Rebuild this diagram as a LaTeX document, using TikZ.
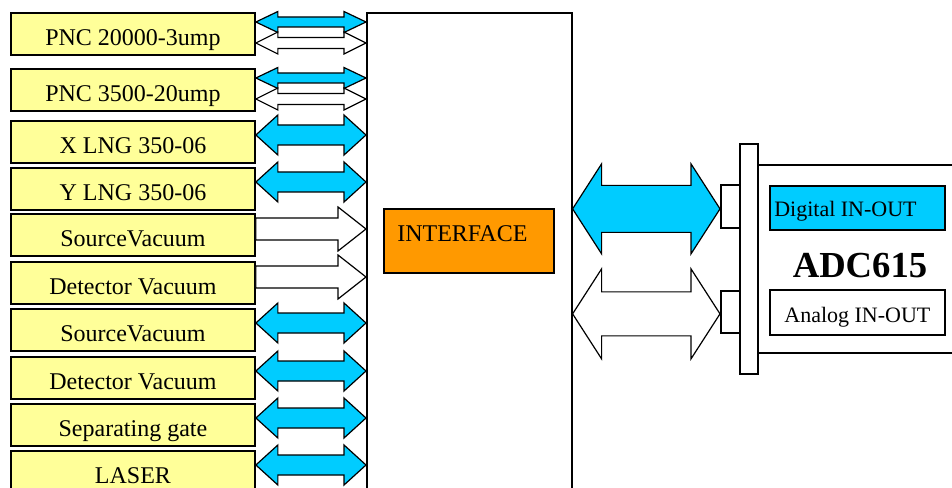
\documentclass[tikz,border=0pt]{standalone}
\usepackage{fontspec}
\setmainfont{Liberation Serif}
\usetikzlibrary{calc,positioning}

\definecolor{padyellow}{RGB}{255,255,153}
\definecolor{busblue}{RGB}{0,204,255}
\definecolor{ifaceorange}{RGB}{255,153,0}

\newcommand{\twoway}[6]{\draw[#1] (#2) -- ($(#2)+(#6,-#5)$) -- ($(#2)+(#6,-#4)$) -- ($(#3)+(-#6,-#4)$) -- ($(#3)+(-#6,-#5)$) -- (#3) -- ($(#3)+(-#6,#5)$) -- ($(#3)+(-#6,#4)$) -- ($(#2)+(#6,#4)$) -- ($(#2)+(#6,#5)$) -- cycle;}
\newcommand{\oneway}[6]{\draw[#1] ($(#2)+(0,-#4)$) -- ($(#3)+(-#6,-#4)$) -- ($(#3)+(-#6,-#5)$) -- (#3) -- ($(#3)+(-#6,#5)$) -- ($(#3)+(-#6,#4)$) -- ($(#2)+(0,#4)$) -- cycle;}

\tikzset{
  unit/.style={draw,line width=1.4pt,fill=padyellow,anchor=north west,minimum width=183pt,minimum height=31.5pt,inner sep=0pt,text height=18pt,text depth=0pt,font=\fontsize{18pt}{20pt}\selectfont},
  plate/.style={draw,line width=1.3pt,fill=white,anchor=north west,inner sep=0pt},
  bluearrow/.style={line width=0.9pt,fill=busblue},
  whitearrow/.style={line width=0.9pt,fill=white},
  caption/.style={inner sep=0pt,font=\fontsize{16.5pt}{18pt}\selectfont}
}

\begin{document}
\begin{tikzpicture}[x=0.75pt,y=-0.75pt]
\useasboundingbox (0,0) rectangle (952,488);
\clip (0,0) rectangle (952,488);
\fill[white] (0,0) rectangle (952,488);

\node[plate,line width=1.2pt,minimum width=153.75pt,minimum height=375pt] (bus) at (366,12) {};
\node[plate,fill=ifaceorange,minimum width=127.5pt,minimum height=48pt] (iface) at (383,208) {};
\node[anchor=base west,inner sep=0pt,font=\fontsize{18pt}{20pt}\selectfont] (ifacetext) at ($(iface.north west)+(14,34)$) {INTERFACE};

\node[unit] (pncA) at (10,12) {PNC 20000-3ump};
\node[unit] (pncB) at (10,68) {PNC 3500-20ump};
\node[unit] (xlng) at (10,120) {X LNG 350-06};
\node[unit] (ylng) at (10,167) {Y LNG 350-06};
\node[unit] (srcvac) at (10,213) {SourceVacuum};
\node[unit] (detvac) at (10,261) {Detector Vacuum};
\node[unit] (srcvacB) at (10,308) {SourceVacuum};
\node[unit] (detvacB) at (10,356) {Detector Vacuum};
\node[unit] (gate) at (10,403) {Separating gate};
\node[unit] (laser) at (10,450) {LASER};

\foreach \u in {pncA,pncB} {
  \coordinate (\u-l) at ($(\u.north east)+(0,10)$);
  \coordinate (\u-r) at (\u-l -| bus.west);
  \coordinate (\u-m) at ($(\u.north east)+(0,31)$);
  \coordinate (\u-n) at (\u-m -| bus.west);
  \twoway{whitearrow}{\u-m}{\u-n}{5.5}{11}{22}
  \twoway{bluearrow}{\u-l}{\u-r}{5}{10.5}{22}
}
\foreach \u in {xlng,ylng,srcvacB,detvacB,gate,laser} {
  \coordinate (\u-l) at ($(\u.north east)+(0,15)$);
  \coordinate (\u-r) at (\u-l -| bus.west);
  \twoway{bluearrow}{\u-l}{\u-r}{10}{20}{22}
}
\foreach \u in {srcvac,detvac} {
  \coordinate (\u-l) at ($(\u.north east)+(0,16)$);
  \coordinate (\u-r) at (\u-l -| bus.west);
  \oneway{whitearrow}{\u-l}{\u-r}{11}{22}{28}
}

\node[plate,minimum width=225pt,minimum height=141pt] (adc) at (757,164) {};
\node[plate,minimum width=13.5pt,minimum height=172.5pt] (bar) at (739,143) {};
\node[plate,minimum width=14.25pt,minimum height=32.25pt] (port1) at (720,184) {};
\node[plate,minimum width=14.25pt,minimum height=31.5pt] (port2) at (720,290) {};
\node[plate,fill=busblue,minimum width=131.25pt,minimum height=33pt] (digital) at (769,185) {};
\node[caption,anchor=base west] (digitaltext) at ($(digital.north west)+(5,32)$) {Digital IN-OUT};
\node[plate,minimum width=131.25pt,minimum height=33.75pt] (analog) at (769,289) {};
\node[caption,anchor=base] (analogtext) at ($(analog.north)+(0,33)$) {Analog IN-OUT};
\node[anchor=base,inner sep=0pt,font=\fontsize{27.5pt}{30pt}\selectfont\bfseries] (adcname) at (860,277) {ADC615};

\coordinate (dig-r) at ($(port1.west)+(0,2.5)$);
\coordinate (dig-l) at (dig-r -| bus.east);
\coordinate (ana-r) at ($(port2.west)+(0,2)$);
\coordinate (ana-l) at (ana-r -| bus.east);
\twoway{bluearrow}{dig-l}{dig-r}{23.5}{45}{29}
\twoway{whitearrow}{ana-l}{ana-r}{22}{45}{29}
\end{tikzpicture}
\end{document}
